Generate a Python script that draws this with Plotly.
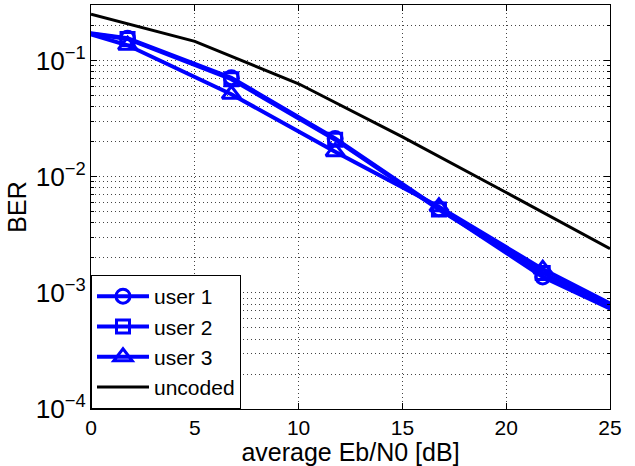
import plotly.graph_objects as go
import math

# Data
ebn0_users = [-3.24, 1.76, 6.76, 11.76, 16.76, 21.76, 26.76]
ber_user1 = [0.205, 0.155, 0.071, 0.0213, 0.0053, 0.00137, 0.00052]
ber_user2 = [0.205, 0.153, 0.069, 0.0208, 0.0052, 0.00148, 0.00054]
ber_user3 = [0.25, 0.135, 0.0512, 0.0164, 0.0055, 0.00160, 0.00056]
ebn0_uncoded = [0, 5, 10, 15, 20, 25]
ber_uncoded = [0.25, 0.146, 0.063, 0.022, 0.0073, 0.0024]

BLUE = "#0000FF"
FONT = "Liberation Sans"
FS = 21
GRID = dict(showgrid=True, gridcolor="#444", griddash="1px,3px", gridwidth=1)

fig = go.Figure()
fig.add_trace(go.Scatter(x=ebn0_users, y=ber_user1, name="user 1", mode="lines+markers",
                         line=dict(color=BLUE, width=4),
                         marker=dict(symbol="circle-open", size=14, line=dict(width=3, color=BLUE))))
fig.add_trace(go.Scatter(x=ebn0_users, y=ber_user2, name="user 2", mode="lines+markers",
                         line=dict(color=BLUE, width=4),
                         marker=dict(symbol="square-open", size=13, line=dict(width=3, color=BLUE))))
fig.add_trace(go.Scatter(x=ebn0_users, y=ber_user3, name="user 3", mode="lines+markers",
                         line=dict(color=BLUE, width=4),
                         marker=dict(symbol="triangle-up-open", size=16, line=dict(width=3, color=BLUE))))
fig.add_trace(go.Scatter(x=ebn0_uncoded, y=ber_uncoded, name="uncoded", mode="lines",
                         line=dict(color="black", width=3)))

fig.update_layout(
    width=635, height=466,
    margin=dict(l=91, r=25, t=5, b=57, autoexpand=False),
    paper_bgcolor="white", plot_bgcolor="white",
    font=dict(family=FONT, size=FS, color="black"),
    showlegend=True,
    hovermode=False,
    legend=dict(x=0, y=0, xanchor="left", yanchor="bottom",
                bgcolor="white", bordercolor="black", borderwidth=1,
                font=dict(size=FS), itemwidth=52, tracegroupgap=0),
)
fig.update_xaxes(range=[0, 25], dtick=5, tick0=0, automargin=False,
                 showline=True, linecolor="black", linewidth=1, mirror="ticks",
                 ticks="inside", ticklen=6, tickcolor="black",
                 zeroline=False,
                 title=dict(text="average Eb/N0 [dB]", standoff=0),
                 tickfont=dict(size=FS), **GRID)
fig.update_yaxes(type="log", range=[-4, math.log10(0.3)], dtick=1, automargin=False,
                 exponentformat="power",
                 showline=True, linecolor="black", linewidth=1, mirror="ticks",
                 ticks="inside", ticklen=6, tickcolor="black",
                 minor=dict(dtick="D1", ticks="inside", ticklen=3, tickcolor="black", **GRID),
                 zeroline=False,
                 title=dict(text="BER", standoff=1),
                 tickfont=dict(size=FS), **GRID)

fig.write_html("out.html", config={"displayModeBar": False},
               post_script="document.body.style.margin='0';document.body.style.overflow='hidden';")
